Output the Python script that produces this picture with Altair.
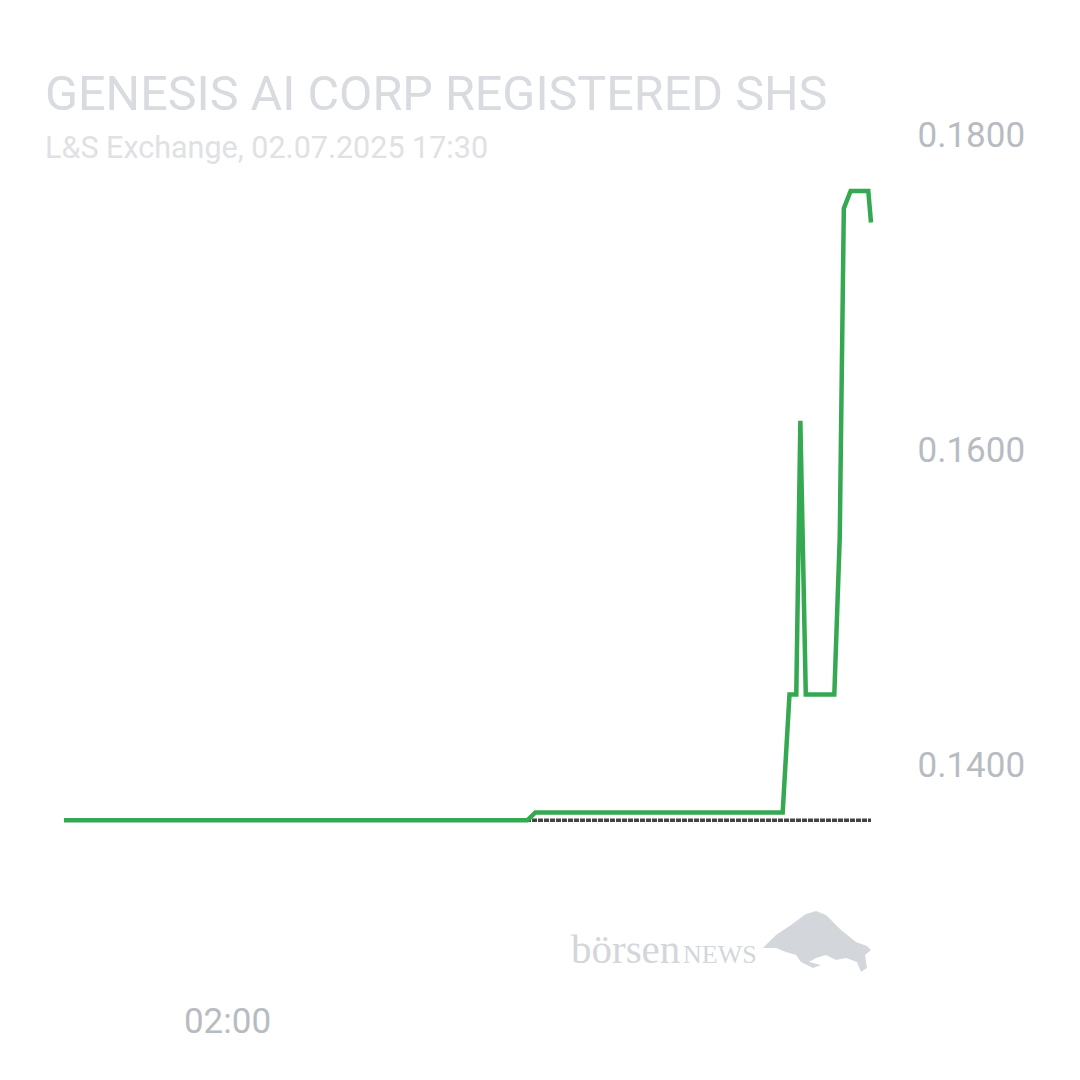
import altair as alt
import pandas as pd

# price series (time of day, price in EUR)
times = ["00:00", "05:41", "05:47", "08:49", "08:51", "08:54", "08:59", "09:02",
         "09:06", "09:27", "09:31", "09:34", "09:39", "09:52", "09:54"]
prices = [0.1365, 0.1365, 0.1370, 0.1370, 0.1400, 0.1445, 0.1445, 0.1619,
          0.1445, 0.1445, 0.1545, 0.1754, 0.1765, 0.1765, 0.1745]
prev_close = 0.1365
y_ticks = [0.14, 0.16, 0.18]
x_ticks = [2]

def to_hours(t):
    h, m = t.split(":")
    return int(h) + int(m) / 60

df = pd.DataFrame({"t": [to_hours(t) for t in times], "price": prices})
ref = pd.DataFrame({"t": [df.t.min(), df.t.max()], "price": [prev_close, prev_close]})

W, H = 807, 818
xs = alt.Scale(domain=[df.t.min(), df.t.max()], nice=False, zero=False)
ys = alt.Scale(domain=[0.13, 0.182], nice=False, zero=False)

x_axis = alt.Axis(values=x_ticks, labelExpr="'0' + datum.value + ':00'", title=None,
                  grid=False, domain=False, ticks=False, labelFont="Roboto",
                  labelFontSize=35, labelColor="#b8bcc2", labelPadding=82,
                  labelBaseline="top")
y_axis = alt.Axis(values=y_ticks, format=".4f", orient="right", title=None, grid=False,
                  domain=False, ticks=False, labelFont="Roboto", labelFontSize=35,
                  labelColor="#b8bcc2", labelPadding=46, labelAlign="left",
                  labelBaseline="middle")

base_ref = alt.Chart(ref).mark_line(color="#444444", strokeWidth=3.5, strokeDash=[5, 1]).encode(
    x=alt.X("t:Q", scale=xs, axis=x_axis),
    y=alt.Y("price:Q", scale=ys, axis=y_axis),
)
line = alt.Chart(df).mark_line(color="#35a852", strokeWidth=4.5, strokeJoin="miter").encode(
    x=alt.X("t:Q", scale=xs),
    y=alt.Y("price:Q", scale=ys),
)

logo_df = pd.DataFrame({"a": [0]})
logo1 = alt.Chart(logo_df).mark_text(text="börsen", font="Liberation Serif", fontSize=41,
                                     color="#d3d6da", align="left", baseline="alphabetic").encode(
    x=alt.value(507), y=alt.value(858))
logo2 = alt.Chart(logo_df).mark_text(text="NEWS", font="Liberation Serif", fontSize=26,
                                     color="#d3d6da", align="left", baseline="alphabetic").encode(
    x=alt.value(619), y=alt.value(858))
bull_path = ("M -0.964 0.127 L -0.727 -0.109 L -0.455 -0.291 L -0.182 -0.491 L 0 -0.545 "
             "L 0.182 -0.473 L 0.455 -0.2 L 0.727 0.018 L 0.927 0.091 L 1.0 0.164 "
             "L 0.891 0.255 L 0.927 0.491 L 0.818 0.564 L 0.745 0.382 L 0.545 0.309 "
             "L 0.364 0.345 L 0.182 0.255 L 0 0.309 L -0.127 0.382 L 0.091 0.436 "
             "L -0.055 0.491 L -0.273 0.382 L -0.364 0.255 L -0.545 0.2 L -0.727 0.127 Z")
bull = alt.Chart(logo_df).mark_point(shape=bull_path, filled=True, size=12100,
                                     color="#d3d6da", opacity=1).encode(
    x=alt.value(752), y=alt.value(836.5))

chart = alt.layer(base_ref, line, logo1, logo2, bull).properties(
    width=W, height=H,
    title=alt.TitleParams(
        text="GENESIS AI CORP REGISTERED SHS",
        subtitle="L&S Exchange, 02.07.2025 17:30",
        anchor="start", dx=-10, offset=-61,
        font="Roboto", fontSize=48.5, fontWeight="normal", color="#d8dbdf",
        subtitleFont="Roboto", subtitleFontSize=30.5, subtitleColor="#dfe1e4",
        subtitlePadding=14,
    ),
    autosize=alt.AutoSizeParams(type="none"),
    padding={"left": 56, "top": 96.5, "right": 201, "bottom": 149.5},
).configure(background="white").configure_view(stroke="transparent", strokeWidth=0)

chart.save("out.html", embed_options={"renderer": "svg", "actions": False})
